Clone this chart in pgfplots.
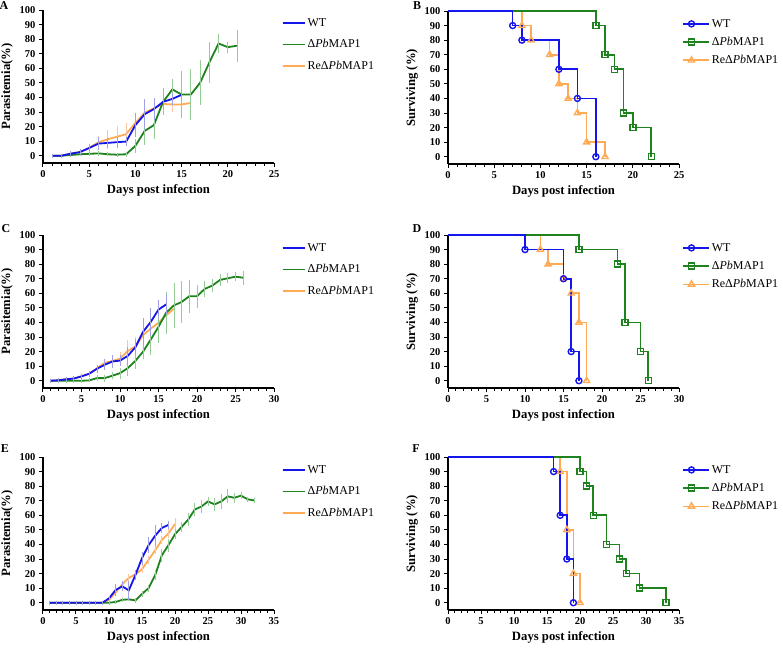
\documentclass[border=0pt]{standalone}
\usepackage{fontspec}
\setmainfont{Liberation Serif}
\usepackage{pgfplots}
\usepackage{pgfplotstable}
\pgfplotsset{compat=1.18}

\definecolor{cB}{RGB}{20,20,235}
\definecolor{cG}{RGB}{30,130,30}
\definecolor{cO}{RGB}{255,170,85}
\definecolor{eB}{RGB}{160,160,230}
\definecolor{eG}{RGB}{150,205,150}
\definecolor{eO}{RGB}{250,200,160}

% Panel A
\pgfplotstableread{
x y e
1 0 0
2 0 0
3 1.4 0.3
4 2.5 0.5
5 5.3 1.5
6 8.3 3
7 8.8 2
8 9.3 2.5
9 9.7 2
10 21 7
11 28.5 9
12 32 6
13 37 4
14 39 2.5
15 41.8 2
}\AB
\pgfplotstableread{
x y e
1 0 0
2 0 0
3 1.5 0.5
4 2.5 0.5
5 5.5 1.5
6 9.2 3
7 11.3 5
8 13 6
9 14.8 6
10 22.5 4
11 29.5 3.5
12 32.5 3
13 35.5 3
14 35.2 3.5
15 35.2 2.5
16 36.2 0
}\AO
\pgfplotstableread{
x y e
1 0 0
2 0 0
3 0.5 0
4 1 0
5 1.3 0
6 1.6 0.5
7 1 0
8 0.7 0
9 1 0.5
10 6.8 3.5
11 17 8
12 21 8
13 37 8
14 45.5 6
15 42 15
16 42 16
17 50 14
18 64 13
19 77 5
20 74.5 2.5
21 75.5 9.5
}\AG
% Panel C
\pgfplotstableread{
x y e
1 0 0
2 0.3 0
3 1 0
4 1.5 0.3
5 3 0.5
6 4.8 0.8
7 8.2 1.5
8 10.9 2.5
9 13.2 3
10 13.8 2.5
11 17 5
12 23 4
13 33.6 8
14 40.4 8
15 48.8 5
16 52.4 5
}\CB
\pgfplotstableread{
x y e
1 0 0
2 0.3 0
3 1 0
4 1.5 0
5 3 0
6 4.8 0.5
7 8.5 1
8 12.2 1.5
9 13.5 2
10 15.2 3
11 20.4 6.5
12 23.4 5
13 31.3 4
14 35.8 3
15 39.7 4
16 44.9 3
17 49.4 0
}\CO
\pgfplotstableread{
x y e
1 0 0
2 0 0
3 0 0
4 0 0
5 0 0
6 0.2 0
7 1.8 0.5
8 1.8 1
9 3.4 1
10 5.2 2.5
11 8.6 4
12 13.6 4
13 20 4
14 28.3 9
15 37 10
16 46.7 13
17 51.7 14
18 54 13
19 58 10
20 58 6.5
21 63 4
22 65.3 3
23 69.2 2.5
24 70.3 2
25 71.4 1.5
26 70.7 3.5
}\CG
% Panel E
\pgfplotstableread{
x y e
1 0 0
2 0 0
3 0 0
4 0 0
5 0 0
6 0 0
7 0 0
8 0 0
9 0 0
10 3 0
11 8.7 2.5
12 11.2 2
13 8.5 5
14 19 2
15 30.6 3
16 39.5 4
17 46 6
18 51.3 2
19 53.4 1.5
}\EB
\pgfplotstableread{
x y e
1 0 0
2 0 0
3 0 0
4 0 0
5 0 0
6 0 0
7 0 0
8 0 0
9 0 0
10 2 0
11 7 0.5
12 12.6 1
13 17 1
14 19.5 1
15 23 1.5
16 29.5 1.5
17 36 1.5
18 43 1.5
19 47.5 2
20 54 2.5
}\EO
\pgfplotstableread{
x y e
1 0 0
2 0 0
3 0 0
4 0 0
5 0 0
6 0 0
7 0 0
8 0 0
9 0 0
10 0 0
11 0.5 0
12 2 0
13 2.3 0
14 1.6 0.5
15 6 0.5
16 10 1
17 19 2
18 32.5 3
19 39.5 3
20 47 2
21 52 2
22 57 3
23 64 3
24 66 3
25 69.5 2
26 67.5 3
27 69.5 3.5
28 73 3.5
29 72 2
30 73.5 1
31 71 0.5
32 70.2 0.5
}\EG

\pgfplotsset{
  panel/.style={
    scale only axis, width=231pt, height=153pt,
    axis x line*=bottom, axis y line*=left,
    ymin=-5, ymax=100, ytick={0,10,...,100},
    xmin=0,
    tick align=outside, major tick length=4pt, minor tick length=2.5pt,
    minor x tick num=4,
    axis line style={line width=1.2pt},
    every tick/.style={line width=1pt, black},
    tick label style={font=\fontsize{10.5}{12}\selectfont\bfseries},
    /pgf/number format/assume math mode=true,
    label style={font=\fontsize{12.7}{14}\selectfont\bfseries},
    xlabel={Days post infection},
    legend style={draw=none, fill=none, at={(axis description cs:1.02,1)}, anchor=north west,
      yshift=-4pt, font=\fontsize{12}{14}\selectfont, row sep=8pt, cells={anchor=west}},
    legend image code/.code={%
      \draw[mark repeat=2, mark phase=2, ##1] plot coordinates {(0pt,0pt) (8.5pt,0pt) (17pt,0pt)};
      \path (0pt,0pt) -- (22pt,0pt);},
    clip=false,
  },
  lpanel/.style={panel, ylabel={Parasitemia(\%)}},
  spanel/.style={panel, ylabel={Surviving (\%)},
    legend style={at={(axis description cs:1.0,1)}, row sep=4.5pt},
    legend image code/.code={%
      \draw[mark repeat=2, mark phase=2, ##1] plot coordinates {(0pt,0pt) (8.5pt,0pt) (17pt,0pt)};
      \path (0pt,0pt) -- (26pt,0pt);}},
  eb/.style={error bars/.cd, y dir=both, y explicit,
    error bar style={line width=0.7pt, #1},
    error mark options={line width=0.7pt, #1, mark size=2pt}},
  sB/.style={const plot, cB, line width=1.6pt, mark=o, mark options={solid, fill=white, mark size=3pt, line width=1.4pt}},
  sG/.style={const plot, cG, line width=1.6pt, mark=square, mark options={solid, fill=white, mark size=3pt, line width=1.4pt}},
  sO/.style={const plot, cO, line width=1.6pt, mark=triangle, mark options={solid, fill=white, mark size=3.5pt, line width=1.4pt}},
}

\newcommand{\legL}{%
  \addlegendimage{cB, line width=1.8pt}\addlegendentry{WT}
  \addlegendimage{cG, line width=1.8pt}\addlegendentry{Δ\textit{Pb}MAP1}
  \addlegendimage{cO, line width=1.8pt}\addlegendentry{ReΔ\textit{Pb}MAP1}}
\newcommand{\legS}{%
  \addlegendimage{sB}\addlegendentry{WT}
  \addlegendimage{sG}\addlegendentry{Δ\textit{Pb}MAP1}
  \addlegendimage{sO}\addlegendentry{ReΔ\textit{Pb}MAP1}}

\begin{document}
\begin{tikzpicture}
\useasboundingbox (0,0) rectangle (783pt,-648pt);
\tikzset{lab/.style={font=\fontsize{12}{14}\selectfont\bfseries}}
\node[lab] at (4pt,-6pt) {A};
\node[lab] at (417pt,-6pt) {B};
\node[lab] at (6pt,-229pt) {C};
\node[lab] at (417pt,-229pt) {D};
\node[lab] at (5pt,-449pt) {E};
\node[lab] at (416pt,-449pt) {F};

% A
\begin{axis}[lpanel, at={(43pt,-163pt)}, anchor=south west, xmax=25, xtick={0,5,...,25}]
\addplot[forget plot, cO, line width=1.8pt, eb=eO] table[x=x,y=y,y error=e] {\AO};
\addplot[forget plot, cG, line width=1.8pt, eb=eG] table[x=x,y=y,y error=e] {\AG};
\addplot[forget plot, cB, line width=1.8pt, eb=eB] table[x=x,y=y,y error=e] {\AB};
\legL
\end{axis}

% B
\begin{axis}[spanel, at={(448pt,-164pt)}, anchor=south west, xmax=25, xtick={0,5,...,25}]
\addplot[forget plot, sO, mark indices={2,3,4,5,6,7,8,9}] coordinates {(0,100)(8,90)(9,80)(11,70)(12,50)(13,40)(14,30)(15,10)(17,0)};
\addplot[forget plot, sG, mark indices={2,3,4,5,6,7}] coordinates {(0,100)(16,90)(17,70)(18,60)(19,30)(20,20)(22,0)};
\addplot[forget plot, sB, mark indices={2,3,4,5,6}] coordinates {(0,100)(7,90)(8,80)(12,60)(14,40)(16,0)};
\legS
\end{axis}

% C
\begin{axis}[lpanel, at={(43pt,-388pt)}, anchor=south west, xmax=30, xtick={0,5,...,30}]
\addplot[forget plot, cO, line width=1.8pt, eb=eO] table[x=x,y=y,y error=e] {\CO};
\addplot[forget plot, cG, line width=1.8pt, eb=eG] table[x=x,y=y,y error=e] {\CG};
\addplot[forget plot, cB, line width=1.8pt, eb=eB] table[x=x,y=y,y error=e] {\CB};
\legL
\end{axis}

% D
\begin{axis}[spanel, at={(448pt,-388pt)}, anchor=south west, xmax=30, xtick={0,5,...,30}]
\addplot[forget plot, sO, mark indices={2,3,4,5,6,7}] coordinates {(0,100)(12,90)(13,80)(15,70)(16,60)(17,40)(18,0)};
\addplot[forget plot, sG, mark indices={2,3,4,5,6}] coordinates {(0,100)(17,90)(22,80)(23,40)(25,20)(26,0)};
\addplot[forget plot, sB, mark indices={2,3,4,5}] coordinates {(0,100)(10,90)(15,70)(16,20)(17,0)};
\legS
\end{axis}

% E
\begin{axis}[lpanel, at={(43pt,-610pt)}, anchor=south west, xmax=35, xtick={0,5,...,35}]
\addplot[forget plot, cO, line width=1.8pt, eb=eO] table[x=x,y=y,y error=e] {\EO};
\addplot[forget plot, cG, line width=1.8pt, eb=eG] table[x=x,y=y,y error=e] {\EG};
\addplot[forget plot, cB, line width=1.8pt, eb=eB] table[x=x,y=y,y error=e] {\EB};
\legL
\end{axis}

% F
\begin{axis}[spanel, at={(448pt,-610pt)}, anchor=south west, xmax=35, xtick={0,5,...,35}]
\addplot[forget plot, sO, mark indices={2,3,4,5}] coordinates {(0,100)(17,90)(18,50)(19,20)(20,0)};
\addplot[forget plot, sG, mark indices={2,3,4,5,6,7,8,9}] coordinates {(0,100)(20,90)(21,80)(22,60)(24,40)(26,30)(27,20)(29,10)(33,0)};
\addplot[forget plot, sB, mark indices={2,3,4,5}] coordinates {(0,100)(16,90)(17,60)(18,30)(19,0)};
\legS
\end{axis}
\end{tikzpicture}
\end{document}
